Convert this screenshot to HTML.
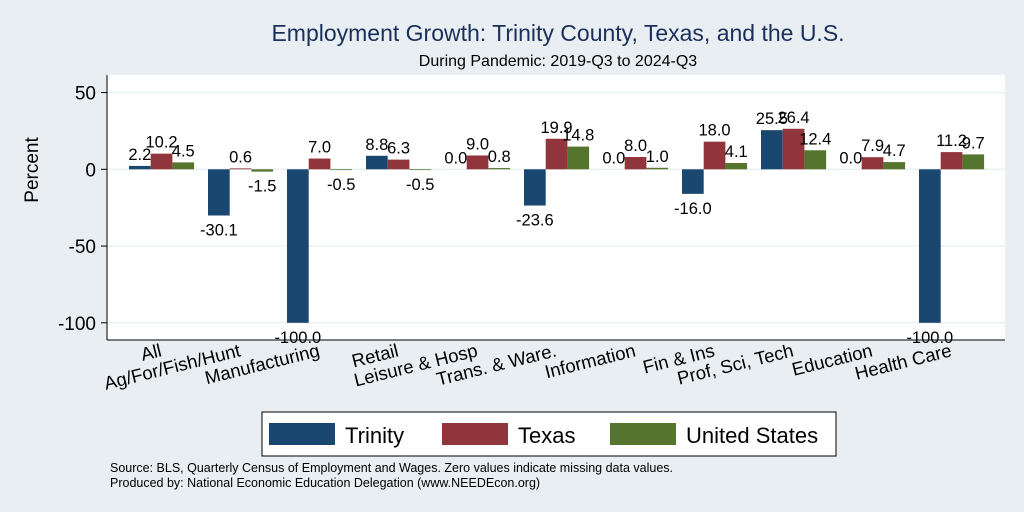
<!DOCTYPE html>
<html><head><meta charset="utf-8"><style>
body{margin:0;background:#e8eef2;font-family:"Liberation Sans",sans-serif}
svg{display:block}
</style></head><body>
<svg id="c" width="1024" height="512" xmlns="http://www.w3.org/2000/svg">
<rect x="0" y="0" width="1024" height="512" fill="#e8eef2"/>
<text x="558" y="41" font-size="23" fill="#1a2f5a" text-anchor="middle">Employment Growth: Trinity County, Texas, and the U.S.</text>
<text x="558" y="66" font-size="16" text-anchor="middle">During Pandemic: 2019-Q3 to 2024-Q3</text>
<rect x="107" y="75" width="898" height="265" fill="#fff"/>
<g id="grid"></g><g id="bars"></g><g id="labels"></g>
<line x1="107" y1="75" x2="107" y2="340" stroke="#000"/>
<line x1="107" y1="340" x2="1005" y2="340" stroke="#000"/>
<text transform="translate(38,170) rotate(-90)" font-size="19" text-anchor="middle">Percent</text>
<g>
<rect x="262" y="412" width="574" height="44" fill="#fff" stroke="#000"/>
<rect x="269" y="423" width="66" height="22" fill="#1a476f"/>
<text x="345" y="443" font-size="22">Trinity</text>
<rect x="442" y="423" width="66" height="22" fill="#90353b"/>
<text x="518" y="443" font-size="22">Texas</text>
<rect x="610" y="423" width="66" height="22" fill="#55752f"/>
<text x="686" y="443" font-size="22">United States</text>
</g>
<text x="110" y="472" font-size="12.5">Source: BLS, Quarterly Census of Employment and Wages. Zero values indicate missing data values.</text>
<text x="110" y="487" font-size="12.5">Produced by: National Economic Education Delegation (www.NEEDEcon.org)</text>
</svg>
<script>
const categories=["All","Ag/For/Fish/Hunt","Manufacturing","Retail","Leisure & Hosp","Trans. & Ware.","Information","Fin & Ins","Prof, Sci, Tech","Education","Health Care"];
const trinity=[2.2,-30.1,-100.0,8.8,0.0,-23.6,0.0,-16.0,25.5,0.0,-100.0];
const texas=[10.2,0.6,7.0,6.3,9.0,19.9,8.0,18.0,26.4,7.9,11.2];
const us=[4.5,-1.5,-0.5,-0.5,0.8,14.8,1.0,4.1,12.4,4.7,9.7];
const yTicks=[50,0,-50,-100];
const NS="http://www.w3.org/2000/svg";
const y=v=>169.3-v*1.535;
const gx=i=>129+i*79;
const BW=21.7;
function mk(t,a,p){const e=document.createElementNS(NS,t);for(const k in a)e.setAttribute(k,a[k]);p.appendChild(e);return e;}
const grid=document.getElementById('grid'),bars=document.getElementById('bars'),labels=document.getElementById('labels'),svg=document.getElementById('c');
yTicks.forEach(t=>{
 const l=mk('line',{x1:107,x2:1005,y1:y(t),y2:y(t),stroke:'#eaf0f2','stroke-width':1.5},grid);
 
 
 const k=mk('line',{x1:101,x2:107,y1:y(t),y2:y(t),stroke:'#000'},svg);
 
 
 const tx=mk('text',{x:96,y:y(t)+7,'font-size':19,'text-anchor':'end'},svg);
 tx.textContent=t;
 
 
});
const series=[[trinity,'#1a476f','trinity'],[texas,'#90353b','texas'],[us,'#55752f','us']];
categories.forEach((c,i)=>{
 series.forEach(([arr,col,nm],s)=>{
  const v=arr[i],x=gx(i)+s*BW;
  const r=mk('rect',{x:x,y:Math.min(y(v),y(0)),width:BW,height:Math.max(Math.abs(y(v)-y(0)),0.01),fill:col},bars);
  
  
  const ly=v>=0?y(v)-6:y(v)+20;
  const t=mk('text',{x:x+BW/2,y:ly,'font-size':16.5,'text-anchor':'middle'},labels);
  t.textContent=v.toFixed(1);
  
  
 });
 const cx=gx(i)+BW*1.5+1, cy=356;
 const t=mk('text',{transform:`translate(${cx},${cy}) rotate(-14)`,'font-size':18.5,'text-anchor':'end'},svg);
 t.textContent=c;
 
 
});
</script>
</body></html>
